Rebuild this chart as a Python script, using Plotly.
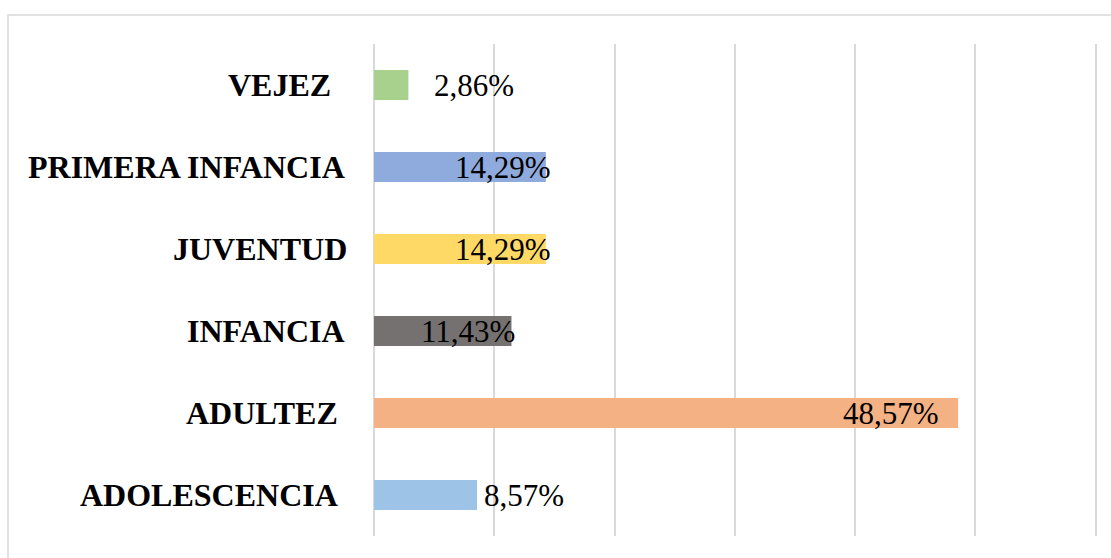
import plotly.graph_objects as go

categories = ["ADOLESCENCIA", "ADULTEZ", "INFANCIA", "JUVENTUD", "PRIMERA INFANCIA", "VEJEZ"]
values = [8.57, 48.57, 11.43, 14.29, 14.29, 2.86]
labels = ["8,57%", "48,57%", "11,43%", "14,29%", "14,29%", "2,86%"]
colors = ["#9DC3E6", "#F4B183", "#767171", "#FFD966", "#8FAADC", "#A9D18E"]

# label placement style (Excel-like): inside end or outside end, with pixel nudges
label_pos = ["out", "in", "in", "in", "in", "out"]
label_shift = [5, -17, 6, 7, 7, 24]
cat_shift = [-34, -34, -27, -25, -27, -41]

W, H = 1111, 558
L, R, T, B = 374, 13, 44, 22
serif = "Liberation Serif, Times New Roman, serif"

fig = go.Figure()
fig.add_trace(go.Bar(
    y=categories, x=values, orientation="h",
    marker=dict(color=colors, line=dict(width=0)),
    hoverinfo="skip",
))

ann = []
for c, v, t, p, s in zip(categories, values, labels, label_pos, label_shift):
    ann.append(dict(
        x=v, y=c, xref="x", yref="y", text=t, showarrow=False,
        xanchor="right" if p == "in" else "left", xshift=s, yshift=0,
        font=dict(family=serif, size=31, color="#000000"),
    ))
for c, s in zip(categories, cat_shift):
    ann.append(dict(
        x=0, y=c, xref="paper", yref="y", text="<b>%s</b>" % c, showarrow=False,
        xanchor="right", xshift=s, yshift=0,
        font=dict(family=serif, size=32, color="#000000"),
    ))

pw = W - L - R
ph = H - T - B
fig.add_shape(type="rect", xref="paper", yref="paper",
              x0=(8 - L) / pw, x1=(W + 20 - L) / pw,
              y0=-(B + 20) / ph, y1=(H - B - 15) / ph,
              line=dict(color="#D9D9D9", width=1.5), fillcolor="rgba(0,0,0,0)", layer="below")

fig.update_layout(
    width=W, height=H,
    margin=dict(l=L, r=R, t=T, b=B, pad=0),
    paper_bgcolor="white", plot_bgcolor="white",
    bargap=0.634, showlegend=False,
    annotations=ann,
    xaxis=dict(range=[0, 60.2], dtick=10, tick0=0, showgrid=True, gridcolor="#D9D9D9",
               gridwidth=1.5, zeroline=True, zerolinecolor="#D9D9D9", zerolinewidth=1.5,
               showticklabels=False, showline=False, ticks="", fixedrange=True),
    yaxis=dict(categoryorder="array", categoryarray=categories, showticklabels=False,
               showgrid=False, zeroline=False, showline=False, ticks="", fixedrange=True),
)

fig.write_html("out.html", config={"displayModeBar": False},
               post_script="document.body.style.margin='0';document.body.style.padding='0';document.body.style.overflow='hidden';")
